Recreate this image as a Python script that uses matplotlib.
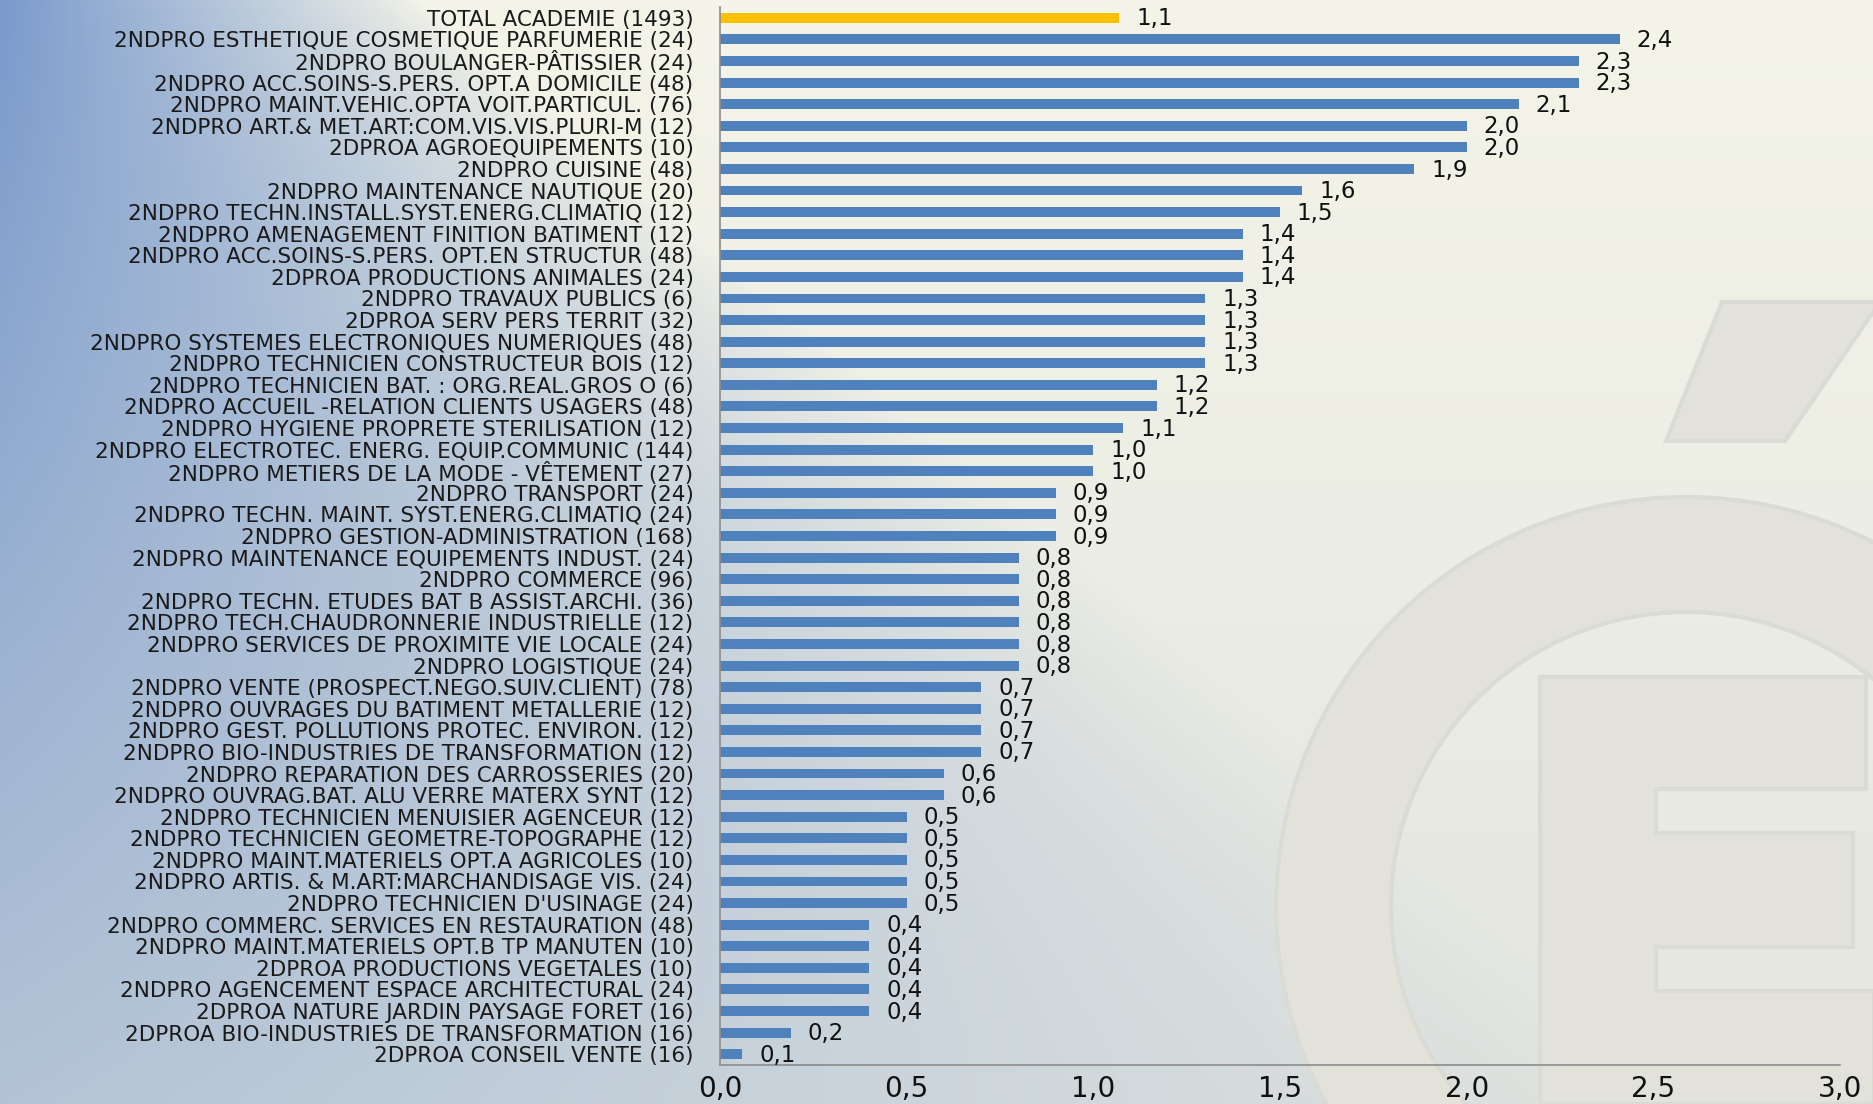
import numpy as np
import matplotlib
matplotlib.use("Agg")
import matplotlib.pyplot as plt
from matplotlib.patches import Wedge, Polygon

categories = [
    "TOTAL ACADEMIE (1493)",
    "2NDPRO ESTHETIQUE COSMETIQUE PARFUMERIE (24)",
    "2NDPRO BOULANGER-PÂTISSIER (24)",
    "2NDPRO ACC.SOINS-S.PERS. OPT.A DOMICILE (48)",
    "2NDPRO MAINT.VEHIC.OPTA VOIT.PARTICUL. (76)",
    "2NDPRO ART.& MET.ART:COM.VIS.VIS.PLURI-M (12)",
    "2DPROA AGROEQUIPEMENTS (10)",
    "2NDPRO CUISINE (48)",
    "2NDPRO MAINTENANCE NAUTIQUE (20)",
    "2NDPRO TECHN.INSTALL.SYST.ENERG.CLIMATIQ (12)",
    "2NDPRO AMENAGEMENT FINITION BATIMENT (12)",
    "2NDPRO ACC.SOINS-S.PERS. OPT.EN STRUCTUR (48)",
    "2DPROA PRODUCTIONS ANIMALES (24)",
    "2NDPRO TRAVAUX PUBLICS (6)",
    "2DPROA SERV PERS TERRIT (32)",
    "2NDPRO SYSTEMES ELECTRONIQUES NUMERIQUES (48)",
    "2NDPRO TECHNICIEN CONSTRUCTEUR BOIS (12)",
    "2NDPRO TECHNICIEN BAT. : ORG.REAL.GROS O (6)",
    "2NDPRO ACCUEIL -RELATION CLIENTS USAGERS (48)",
    "2NDPRO HYGIENE PROPRETE STERILISATION (12)",
    "2NDPRO ELECTROTEC. ENERG. EQUIP.COMMUNIC (144)",
    "2NDPRO METIERS DE LA MODE - VÊTEMENT (27)",
    "2NDPRO TRANSPORT (24)",
    "2NDPRO TECHN. MAINT. SYST.ENERG.CLIMATIQ (24)",
    "2NDPRO GESTION-ADMINISTRATION (168)",
    "2NDPRO MAINTENANCE EQUIPEMENTS INDUST. (24)",
    "2NDPRO COMMERCE (96)",
    "2NDPRO TECHN. ETUDES BAT B ASSIST.ARCHI. (36)",
    "2NDPRO TECH.CHAUDRONNERIE INDUSTRIELLE (12)",
    "2NDPRO SERVICES DE PROXIMITE VIE LOCALE (24)",
    "2NDPRO LOGISTIQUE (24)",
    "2NDPRO VENTE (PROSPECT.NEGO.SUIV.CLIENT) (78)",
    "2NDPRO OUVRAGES DU BATIMENT METALLERIE (12)",
    "2NDPRO GEST. POLLUTIONS PROTEC. ENVIRON. (12)",
    "2NDPRO BIO-INDUSTRIES DE TRANSFORMATION (12)",
    "2NDPRO REPARATION DES CARROSSERIES (20)",
    "2NDPRO OUVRAG.BAT. ALU VERRE MATERX SYNT (12)",
    "2NDPRO TECHNICIEN MENUISIER AGENCEUR (12)",
    "2NDPRO TECHNICIEN GEOMETRE-TOPOGRAPHE (12)",
    "2NDPRO MAINT.MATERIELS OPT.A AGRICOLES (10)",
    "2NDPRO ARTIS. & M.ART:MARCHANDISAGE VIS. (24)",
    "2NDPRO TECHNICIEN D'USINAGE (24)",
    "2NDPRO COMMERC. SERVICES EN RESTAURATION (48)",
    "2NDPRO MAINT.MATERIELS OPT.B TP MANUTEN (10)",
    "2DPROA PRODUCTIONS VEGETALES (10)",
    "2NDPRO AGENCEMENT ESPACE ARCHITECTURAL (24)",
    "2DPROA NATURE JARDIN PAYSAGE FORET (16)",
    "2DPROA BIO-INDUSTRIES DE TRANSFORMATION (16)",
    "2DPROA CONSEIL VENTE (16)",
]
values = [
    1.07, 2.41, 2.30, 2.30, 2.14, 2.00, 2.00, 1.86, 1.56, 1.50,
    1.40, 1.40, 1.40, 1.30, 1.30, 1.30, 1.30, 1.17, 1.17, 1.08,
    1.00, 1.00, 0.90, 0.90, 0.90, 0.80, 0.80, 0.80, 0.80, 0.80,
    0.80, 0.70, 0.70, 0.70, 0.70, 0.60, 0.60, 0.50, 0.50, 0.50,
    0.50, 0.50, 0.40, 0.40, 0.40, 0.40, 0.40, 0.19, 0.06,
]
xticks = [0.0, 0.5, 1.0, 1.5, 2.0, 2.5, 3.0]

W, H = 1874, 1104
fig = plt.figure(figsize=(W / 100, H / 100), dpi=100)

# background gradient
bg = fig.add_axes([0, 0, 1, 1], zorder=0)
yy, xx = np.mgrid[0:H, 0:W].astype(float)
ty = yy / H
blue = np.stack([122 + 58 * ty, 154 + 42 * ty, 204 + 10 * ty], axis=-1)
cream = np.stack([244 - 16 * ty, 244 - 14 * ty, 232 - 8 * ty], axis=-1)
L = 420 + 1300 * ty
w = np.clip(1 - xx / L, 0, 1) ** 0.9
img = (blue * w[..., None] + cream * (1 - w[..., None])) / 255.0
bg.imshow(img, extent=[0, W, H, 0], aspect="auto", interpolation="bilinear")
bg.set_xlim(0, W)
bg.set_ylim(H, 0)
bg.axis("off")

logo_fc = (0.885, 0.885, 0.86)
logo_ec = (0.86, 0.86, 0.84)
bg.add_patch(Wedge((1686, 907), 410, 0, 360, width=115, facecolor=logo_fc,
                   edgecolor=logo_ec, linewidth=3))
E = [(1540, 677), (1866, 677), (1866, 789), (1656, 789), (1656, 833),
     (1853, 833), (1853, 947), (1656, 947), (1656, 991), (1874, 991),
     (1874, 1104), (1540, 1104)]
bg.add_patch(Polygon(E, closed=True, facecolor=logo_fc, edgecolor=logo_ec,
                     linewidth=3))
bg.add_patch(Polygon([(1722, 302), (1880, 302), (1785, 441), (1666, 441)],
                     closed=True, facecolor=logo_fc, edgecolor=logo_ec,
                     linewidth=3))

# main axes
ax = fig.add_axes([720 / W, 39 / H, 1120 / W, (1097 - 39) / H], zorder=1)
ax.patch.set_alpha(0)
n = len(categories)
ypos = np.arange(n)
colors = ["#ffc000"] + ["#4f81bd"] * (n - 1)
ax.barh(ypos, values, height=0.46, color=colors, edgecolor="none")
ax.set_ylim(n - 0.5, -0.5)
ax.set_xlim(0, 3.0)
ax.set_yticks(ypos)
ax.set_yticklabels(categories, fontsize=15.5, color="#1a1a1a",
                   family="DejaVu Sans")
ax.set_xticks(xticks)
ax.set_xticklabels([f"{t:.1f}".replace(".", ",") for t in xticks],
                   fontsize=20, color="#111111", family="DejaVu Sans")
ax.tick_params(axis="y", length=0, pad=19)
ax.tick_params(axis="x", length=0, pad=7)
for s in ["top", "right"]:
    ax.spines[s].set_visible(False)
ax.spines["left"].set_color("#8c8c8c")
ax.spines["bottom"].set_color("#8c8c8c")
ax.spines["left"].set_linewidth(1.2)
ax.spines["bottom"].set_linewidth(1.2)

for y, v in zip(ypos, values):
    ax.text(v + 0.045, y + 0.05, f"{v:.1f}".replace(".", ","), va="center",
            ha="left", fontsize=16.5, color="#111111", family="DejaVu Sans")

fig.savefig("out.png", dpi=100)
